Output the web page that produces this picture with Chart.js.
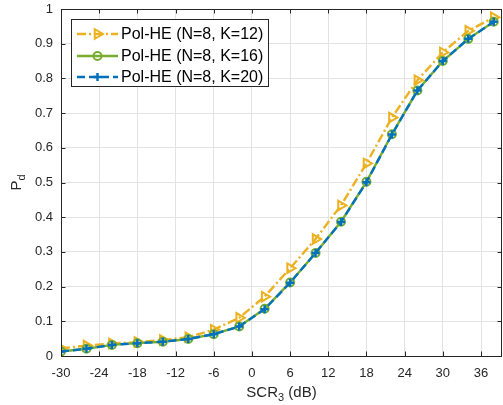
<!DOCTYPE html>
<html>
<head>
<meta charset="utf-8">
<script src="https://cdn.jsdelivr.net/npm/chart.js@4.4.0/dist/chart.umd.min.js"></script>
<style>
  body { margin: 0; background: #fff; }
  #pdChart { display: block; }
</style>
</head>
<body>
<canvas id="pdChart" width="503" height="405"></canvas>
<script>
// SCR sweep (dB) and detection probability per K
var scr = [-30, -26, -22, -18, -14, -10, -6, -2, 2, 6, 10, 14, 18, 22, 26, 30, 34, 38]
var pdK12 = [0.022, 0.030, 0.036, 0.040, 0.046, 0.054, 0.076, 0.110, 0.171, 0.253, 0.337, 0.434, 0.555, 0.687, 0.795, 0.875, 0.937, 0.976]
var pdK16 = [0.013, 0.021, 0.032, 0.037, 0.041, 0.049, 0.063, 0.085, 0.136, 0.212, 0.297, 0.387, 0.502, 0.639, 0.765, 0.850, 0.914, 0.963]
var pdK20 = [0.013, 0.021, 0.032, 0.037, 0.041, 0.049, 0.063, 0.085, 0.135, 0.211, 0.297, 0.386, 0.501, 0.638, 0.765, 0.850, 0.914, 0.963]
var seriesNames = ['Pol-HE (N=8, K=12)', 'Pol-HE (N=8, K=16)', 'Pol-HE (N=8, K=20)']
var xTicks = [-30, -24, -18, -12, -6, 0, 6, 12, 18, 24, 30, 36]
var yTicks = [0, 0.1, 0.2, 0.3, 0.4, 0.5, 0.6, 0.7, 0.8, 0.9, 1]

var axisColor = '#262626'
var gridColor = '#e3e3e3'
var fontFamily = '"Liberation Sans", Arial, Helvetica, sans-serif'

function toPoints(ys) {
  return scr.map((x, i) => ({ x: x, y: ys[i] }))
}

// box, inner tick marks, legend and axis titles
var matlabAxes = {
  id: 'matlabAxes',
  afterDatasetsDraw(chart) {
    const ctx = chart.ctx
    const a = chart.chartArea
    const xs = chart.scales.x
    const ys = chart.scales.y
    const len = 4.5
    ctx.save()
    ctx.strokeStyle = axisColor
    ctx.lineWidth = 1
    ctx.beginPath()
    xTicks.forEach((v) => {
      const px = Math.round(xs.getPixelForValue(v)) + 0.5
      ctx.moveTo(px, a.bottom); ctx.lineTo(px, a.bottom - len)
      ctx.moveTo(px, a.top); ctx.lineTo(px, a.top + len)
    })
    yTicks.forEach((v) => {
      const py = Math.round(ys.getPixelForValue(v)) + 0.5
      ctx.moveTo(a.left, py); ctx.lineTo(a.left + len, py)
      ctx.moveTo(a.right, py); ctx.lineTo(a.right - len, py)
    })
    ctx.stroke()
    ctx.strokeRect(Math.round(a.left) + 0.5, Math.round(a.top) + 0.5,
      Math.round(a.right - a.left) - 1, Math.round(a.bottom - a.top))
    ctx.restore()
  },
  afterDraw(chart) {
    const ctx = chart.ctx
    const a = chart.chartArea
    ctx.save()

    // legend
    const lx = 71, ly = 19, lw = 197, lh = 67
    ctx.fillStyle = '#fff'
    ctx.fillRect(lx, ly, lw, lh)
    ctx.strokeStyle = axisColor
    ctx.lineWidth = 1
    ctx.strokeRect(lx + 0.5, ly + 0.5, lw, lh)
    const rows = [34, 56, 77]
    chart.data.datasets.forEach((ds, i) => {
      const y = rows[i]
      ctx.save()
      ctx.strokeStyle = ds.borderColor
      ctx.lineWidth = ds.borderWidth
      ctx.setLineDash(ds.borderDash || [])
      ctx.beginPath()
      ctx.moveTo(77, y)
      ctx.lineTo(118, y)
      ctx.stroke()
      ctx.setLineDash([])
      ctx.strokeStyle = ds.pointBorderColor
      ctx.fillStyle = ds.pointBackgroundColor
      ctx.lineWidth = ds.pointBorderWidth
      Chart.helpers.drawPoint(ctx, {
        pointStyle: ds.pointStyle,
        rotation: ds.pointRotation || 0,
        radius: ds.pointRadius,
        borderWidth: ds.pointBorderWidth
      }, 97.5, y)
      ctx.restore()
      ctx.fillStyle = '#000'
      ctx.font = '16px ' + fontFamily
      ctx.textBaseline = 'middle'
      ctx.textAlign = 'left'
      ctx.fillText(seriesNames[i], 121, y + 1)
    })

    // x title: SCR_3 (dB)
    ctx.fillStyle = '#262626'
    ctx.textBaseline = 'alphabetic'
    ctx.textAlign = 'left'
    const big = '15px ' + fontFamily
    const small = '11px ' + fontFamily
    ctx.font = big
    const w1 = ctx.measureText('SCR').width
    const w3 = ctx.measureText(' (dB)').width
    ctx.font = small
    const w2 = ctx.measureText('3').width
    let x0 = (a.left + a.right) / 2 - (w1 + w2 + w3) / 2
    const by = 397
    ctx.font = big
    ctx.fillText('SCR', x0, by)
    ctx.font = small
    ctx.fillText('3', x0 + w1, by + 4)
    ctx.font = big
    ctx.fillText(' (dB)', x0 + w1 + w2, by)

    // y title: P_d
    ctx.translate(21, (a.top + a.bottom) / 2)
    ctx.rotate(-Math.PI / 2)
    ctx.font = big
    const pw = ctx.measureText('P').width
    ctx.font = small
    const dw = ctx.measureText('d').width
    const sx = -(pw + dw) / 2
    ctx.font = big
    ctx.fillText('P', sx, 0)
    ctx.font = small
    ctx.fillText('d', sx + pw, 4)
    ctx.restore()
  }
}

var yellow = '#EDB120', green = '#77AC30', blue = '#0072BD'

new Chart(document.getElementById('pdChart'), {
  type: 'line',
  data: {
    datasets: [
      {
        label: seriesNames[0],
        data: toPoints(pdK12),
        borderColor: yellow,
        backgroundColor: 'rgba(0,0,0,0)',
        borderWidth: 2.4,
        borderDash: [9, 3, 2, 3],
        pointStyle: 'triangle',
        pointRotation: 90,
        pointRadius: 5.5,
        pointBorderWidth: 2,
        pointBorderColor: yellow,
        pointBackgroundColor: 'rgba(0,0,0,0)',
        order: 3
      },
      {
        label: seriesNames[1],
        data: toPoints(pdK16),
        borderColor: green,
        backgroundColor: 'rgba(0,0,0,0)',
        borderWidth: 2.4,
        pointStyle: 'circle',
        pointRadius: 4,
        pointBorderWidth: 2,
        pointBorderColor: green,
        pointBackgroundColor: 'rgba(0,0,0,0)',
        order: 2
      },
      {
        label: seriesNames[2],
        data: toPoints(pdK20),
        borderColor: blue,
        backgroundColor: 'rgba(0,0,0,0)',
        borderWidth: 2.4,
        borderDash: [8, 4],
        pointStyle: 'cross',
        pointRadius: 4,
        pointBorderWidth: 2.5,
        pointBorderColor: blue,
        pointBackgroundColor: blue,
        order: 1
      }
    ]
  },
  options: {
    responsive: false,
    animation: false,
    devicePixelRatio: 1,
    events: [],
    layout: { autoPadding: false, padding: { left: 0, right: 1, top: 9, bottom: 0 } },
    plugins: {
      legend: { display: false },
      tooltip: { enabled: false }
    },
    elements: { line: { tension: 0 } },
    scales: {
      x: {
        type: 'linear',
        min: -30,
        max: 39.3,
        afterBuildTicks: (s) => { s.ticks = xTicks.map((v) => ({ value: v })) },
        afterFit: (s) => {
          s.height = 49
          s.paddingLeft = 0
          s.paddingRight = 0
        },
        grid: { color: gridColor, drawTicks: false },
        border: { display: false },
        ticks: {
          padding: 10,
          color: axisColor,
          font: { family: fontFamily, size: 13 },
          maxRotation: 0
        }
      },
      y: {
        type: 'linear',
        min: 0,
        max: 1,
        afterBuildTicks: (s) => { s.ticks = yTicks.map((v) => ({ value: v })) },
        afterFit: (s) => {
          s.width = 61
          s.paddingTop = 0
          s.paddingBottom = 0
        },
        grid: { color: gridColor, drawTicks: false },
        border: { display: false },
        ticks: {
          padding: 8,
          color: axisColor,
          font: { family: fontFamily, size: 13 },
          callback: (v) => String(Math.round(v * 10) / 10)
        }
      }
    }
  },
  plugins: [matlabAxes]
})
</script>
</body>
</html>
